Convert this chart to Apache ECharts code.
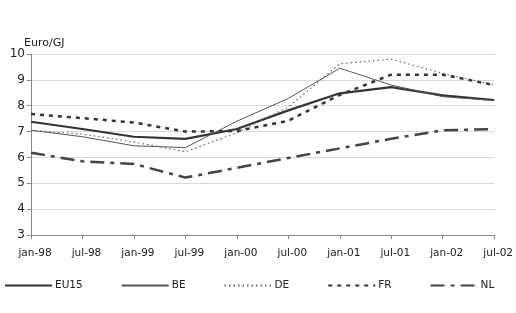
<!DOCTYPE html>
<html>
<head>
<meta charset="utf-8">
<script src="https://cdn.jsdelivr.net/npm/echarts@6/dist/echarts.min.js"></script>
<style>
  html, body { margin: 0; padding: 0; background: #fff; }
  #chart { width: 516px; height: 313px; }
</style>
</head>
<body>
<div id="chart"></div>
<script>
const months = ['jan-98', 'jul-98', 'jan-99', 'jul-99', 'jan-00', 'jul-00', 'jan-01', 'jul-01', 'jan-02', 'jul-02']
const eu15 = [7.38, 7.1, 6.8, 6.72, 7.1, 7.82, 8.48, 8.72, 8.4, 8.22]
const be = [7.05, 6.8, 6.45, 6.38, 7.4, 8.28, 9.45, 8.8, 8.35, 8.2]
const de = [7.05, 6.9, 6.6, 6.22, 6.95, 7.95, 9.62, 9.8, 9.25, 8.8]
const fr = [7.68, 7.52, 7.35, 7.0, 7.02, 7.42, 8.42, 9.2, 9.2, 8.8]
const nl = [6.18, 5.85, 5.75, 5.22, 5.6, 5.98, 6.35, 6.72, 7.05, 7.1]

const font = 'DejaVu Sans'

function line(name, data, width, color, type) {
  return {
    name: name,
    type: 'line',
    data: data,
    symbol: 'none',
    lineStyle: { width: width, color: color, type: type },
    itemStyle: { color: color }
  }
}

const chart = echarts.init(document.getElementById('chart'))
chart.setOption({
  animation: false,
  title: {
    text: 'Euro/GJ',
    left: 19,
    top: 33,
    textStyle: { fontFamily: font, fontSize: 11, fontWeight: 'normal', color: '#222' }
  },
  grid: { left: 31, right: 21, top: 54, bottom: 78 },
  legend: {
    left: -1,
    top: 275,
    itemWidth: 47,
    itemHeight: 12,
    itemGap: 38,
    itemStyle: { opacity: 0 },
    textStyle: { fontFamily: font, fontSize: 10.5, color: '#222', padding: [0, 0, 0, -2] },
    data: ['EU15', 'BE', 'DE', 'FR', 'NL']
  },
  xAxis: {
    type: 'category',
    data: months,
    boundaryGap: false,
    axisLine: { lineStyle: { color: '#888' } },
    axisTick: { alignWithLabel: true, length: 4, lineStyle: { color: '#888' } },
    axisLabel: { fontFamily: font, fontSize: 10.5, color: '#222', margin: 13, padding: [0, 0, 0, 8] }
  },
  yAxis: {
    type: 'value',
    min: 3,
    max: 10,
    interval: 1,
    axisLine: { show: true, lineStyle: { color: '#888' } },
    axisTick: { show: true, length: 4, lineStyle: { color: '#888' } },
    axisLabel: { fontFamily: font, fontSize: 12, color: '#222', margin: 6 },
    splitLine: { lineStyle: { color: '#d9d9d9' } }
  },
  series: [
    line('EU15', eu15, 2.2, '#333', 'solid'),
    line('BE', be, 1, '#555', 'solid'),
    line('DE', de, 1.2, '#666', [1.5, 3]),
    line('FR', fr, 2.5, '#333', [4, 5]),
    line('NL', nl, 2.5, '#444', [14, 6, 4, 6])
  ]
})
</script>
</body>
</html>
